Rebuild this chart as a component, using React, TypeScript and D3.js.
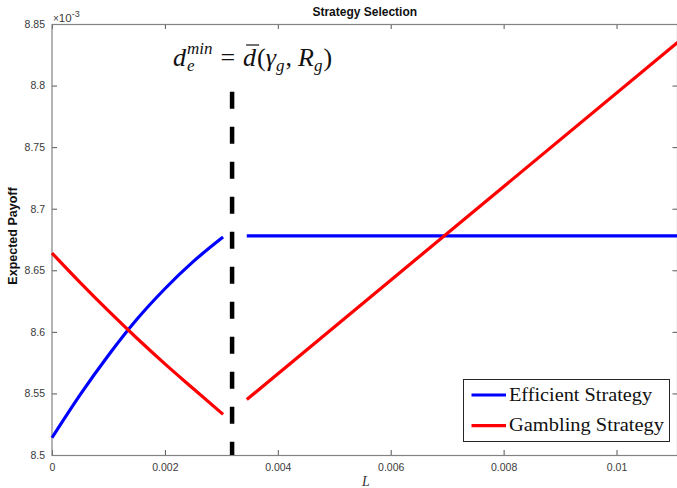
import React, { useRef, useEffect } from 'react';
import * as d3 from 'd3';

// values shown on the y axis are in units of 1e-3
const effLeftL = [0, 0.0005, 0.001, 0.0015, 0.002, 0.0025, 0.00303];
const effLeftV = [8.514, 8.549, 8.581, 8.61, 8.635, 8.657, 8.677];
const gamLeftL = [0, 0.0005, 0.001, 0.0015, 0.002, 0.0025, 0.00303];
const gamLeftV = [8.664, 8.64, 8.617, 8.595, 8.574, 8.554, 8.533];
const effRightL = [0.00345, 0.01108];
const effRightV = [8.678, 8.678];
const gamRightL = [0.00345, 0.01108];
const gamRightV = [8.545, 8.835];
const dividerL = 0.00319;
const dividerV = [8.5, 8.795];

const xTicks = [0, 0.002, 0.004, 0.006, 0.008, 0.01];
const xTickLabels = ['0', '0.002', '0.004', '0.006', '0.008', '0.01'];
const yTicks = [8.5, 8.55, 8.6, 8.65, 8.7, 8.75, 8.8, 8.85];
const yTickLabels = ['8.5', '8.55', '8.6', '8.65', '8.7', '8.75', '8.8', '8.85'];
const legendNames = ['Efficient Strategy', 'Gambling Strategy'];
const legendColors = ['#0000ff', '#ff0000'];

export default function App() {
  const ref = useRef<SVGSVGElement | null>(null);

  useEffect(() => {
    if (!ref.current) return;
    const W = 677, H = 488;
    const left = 52, right = 677.5, top = 24, bottom = 455;
    const svg = d3.select(ref.current);
    svg.selectAll('*').remove();

    const x = d3.scaleLinear().domain([0, 0.01108]).range([left, right]);
    const y = d3.scaleLinear().domain([8.5, 8.85]).range([bottom, top]);

    svg.append('rect').attr('width', W).attr('height', H).attr('fill', '#fff');

    const tickColor = '#555';
    const labelFont = '"Liberation Sans", Arial, sans-serif';

    // axes
    const xAxis = svg.append('g').attr('transform', `translate(0,${bottom})`)
      .call(d3.axisBottom(x).tickValues(xTicks).tickSizeInner(-5).tickSizeOuter(0).tickPadding(9)
        .tickFormat((d, i) => xTickLabels[i]));
    const yAxis = svg.append('g').attr('transform', `translate(${left},0)`)
      .call(d3.axisLeft(y).tickValues(yTicks).tickSizeInner(-5).tickSizeOuter(0).tickPadding(7)
        .tickFormat((d, i) => yTickLabels[i]));
    const xTop = svg.append('g').attr('transform', `translate(0,${top})`)
      .call(d3.axisTop(x).tickValues(xTicks).tickSizeInner(-5).tickSizeOuter(0).tickFormat(() => ''));
    const yRight = svg.append('g').attr('transform', `translate(${right},0)`)
      .call(d3.axisRight(y).tickValues(yTicks).tickSizeInner(-5).tickSizeOuter(0).tickFormat(() => ''));
    [xAxis, yAxis, xTop, yRight].forEach(a => {
      a.select('.domain').remove();
      a.selectAll('.tick line').attr('stroke', tickColor);
      a.selectAll('.tick text').attr('fill', '#3a3a3a').attr('font-family', labelFont).attr('font-size', 10.5);
    });

    // box
    svg.append('rect')
      .attr('x', left).attr('y', top + 0.5)
      .attr('width', right - left).attr('height', bottom - top)
      .attr('fill', 'none').attr('stroke', '#828282').attr('stroke-width', 1.2);

    // exponent
    const ex = svg.append('text').attr('x', 53).attr('y', 21.5)
      .attr('font-family', labelFont).attr('font-size', 11.5).attr('fill', '#3a3a3a');
    ex.append('tspan').attr('font-size', 10).text('\u00d7');
    ex.append('tspan').text('10');
    ex.append('tspan').attr('font-size', 9).attr('dy', -5).text('-3');

    // title and axis labels
    svg.append('text').attr('x', (left + right) / 2).attr('y', 16)
      .attr('text-anchor', 'middle').attr('font-family', labelFont)
      .attr('font-weight', 'bold').attr('font-size', 12).attr('fill', '#111')
      .text('Strategy Selection');
    svg.append('text').attr('transform', `translate(17,236) rotate(-90)`)
      .attr('text-anchor', 'middle').attr('font-family', labelFont)
      .attr('font-weight', 'bold').attr('font-size', 12.5).attr('fill', '#111')
      .text('Expected Payoff');
    svg.append('text').attr('x', 366).attr('y', 486)
      .attr('text-anchor', 'middle').attr('font-family', '"Liberation Serif", serif')
      .attr('font-style', 'italic').attr('font-size', 14).attr('fill', '#333')
      .text('L');

    // lines
    const line = d3.line<[number, number]>().x(d => x(d[0])).y(d => y(d[1])).curve(d3.curveMonotoneX);
    const series: [number[], number[], string][] = [
      [effLeftL, effLeftV, legendColors[0]],
      [gamLeftL, gamLeftV, legendColors[1]],
      [effRightL, effRightV, legendColors[0]],
      [gamRightL, gamRightV, legendColors[1]],
    ];
    const plot = svg.append('g');
    series.forEach(([ls, vs, c]) => {
      plot.append('path')
        .datum(ls.map((l, i) => [l, vs[i]] as [number, number]))
        .attr('d', line)
        .attr('fill', 'none').attr('stroke', c).attr('stroke-width', 3.2);
    });

    // divider
    plot.append('line')
      .attr('x1', x(dividerL)).attr('x2', x(dividerL))
      .attr('y1', y(dividerV[1])).attr('y2', y(dividerV[0]))
      .attr('stroke', '#000').attr('stroke-width', 4.5).attr('stroke-dasharray', '17 18');

    // annotation
    const ann = svg.append('g');
    const serif = '"Liberation Serif", "Times New Roman", serif';
    let cx = 0;
    const base = 66;
    const big = 26, small = 17;
    const put = (s: string, size: number, italic: boolean, yy: number, xx: number) => {
      const t = ann.append('text').attr('x', xx).attr('y', yy)
        .attr('font-family', serif).attr('font-size', size)
        .attr('font-style', italic ? 'italic' : 'normal').attr('fill', '#111').text(s);
      return (t.node() as SVGTextElement).getComputedTextLength();
    };
    cx += put('d', big, true, base, cx) + 1;
    const w1 = put('min', small, true, base - 12, cx);
    const w2 = put('e', small, true, base + 5, cx);
    cx += Math.max(w1, w2) + 8;
    cx += put('=', big, false, base, cx) + 8;
    const dx0 = cx;
    const wd = put('d', big, true, base, cx);
    ann.append('line').attr('x1', dx0 + 3).attr('x2', dx0 + wd + 3)
      .attr('y1', base - 21).attr('y2', base - 21).attr('stroke', '#111').attr('stroke-width', 1.2);
    cx += wd + 1;
    cx += put('(', big, false, base, cx);
    cx += put('\u03b3', big, true, base, cx);
    cx += put('g', small, true, base + 5, cx) + 1;
    cx += put(',', big, false, base, cx) + 6;
    cx += put('R', big, true, base, cx);
    cx += put('g', small, true, base + 5, cx) + 1;
    cx += put(')', big, false, base, cx);
    ann.attr('transform', `translate(${252.5 - cx / 2},0)`);

    // legend
    const lg = svg.append('g');
    lg.append('rect').attr('x', 463.5).attr('y', 379.5).attr('width', 206).attr('height', 62)
      .attr('fill', '#fff').attr('stroke', '#262626').attr('stroke-width', 1);
    legendNames.forEach((name, i) => {
      const ly = 395 + i * 30.7;
      lg.append('line').attr('x1', 471.5).attr('x2', 506).attr('y1', ly).attr('y2', ly)
        .attr('stroke', legendColors[i]).attr('stroke-width', 3.2);
      lg.append('text').attr('x', 509).attr('y', ly + 5.7)
        .attr('font-family', serif).attr('font-size', 18).attr('fill', '#111')
        .attr('textLength', i === 0 ? 143 : 155).attr('lengthAdjust', 'spacingAndGlyphs')
        .text(name);
    });
  }, []);

  return (
    <svg ref={ref} width={677} height={488}
      style={{ position: 'absolute', left: 0, top: 0, display: 'block', background: '#fff' }} />
  );
}
